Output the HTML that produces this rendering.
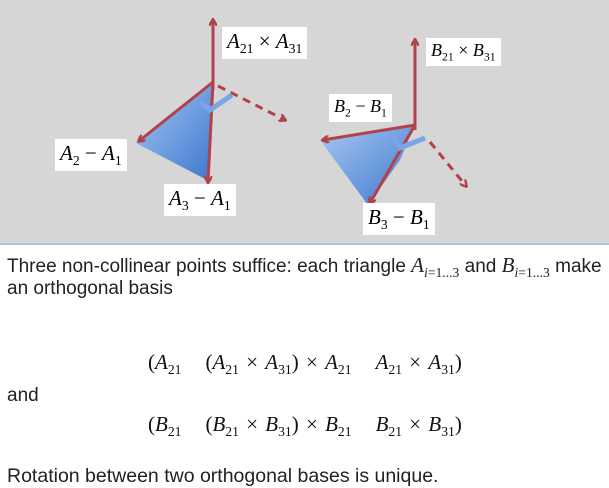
<!DOCTYPE html>
<html><head><meta charset="utf-8"><style>
body{margin:0;width:609px;height:487px;background:#fff;overflow:hidden;position:relative;font-family:"Liberation Sans",sans-serif;}
.t{position:absolute;font-size:19px;color:#222;white-space:nowrap;}
.m{position:absolute;font-family:"Liberation Serif",serif;font-size:21px;color:#111;white-space:nowrap;word-spacing:2px;}
.m i{font-style:italic}
.lbl{position:absolute;background:#fff;font-family:"Liberation Serif",serif;font-size:21px;white-space:nowrap;padding:2px 5px;}
sub{font-size:0.65em;font-style:normal}
.sp{display:inline-block;width:24px}
</style></head><body>
<div style="position:absolute;left:0;top:0;width:609px;height:243px;background:#d6d6d6;border-bottom:2px solid #a9c6dc;"></div>
<svg width="609" height="243" style="position:absolute;left:0;top:0">
<defs>
<linearGradient id="g" x1="0" y1="0" x2="1" y2="1"><stop offset="0" stop-color="#a8c8f4"/><stop offset="1" stop-color="#3d77cc"/></linearGradient>
<marker id="ar" markerWidth="8" markerHeight="8" refX="6" refY="4" orient="auto" markerUnits="userSpaceOnUse"><path d="M0,0 L7,4 L0,8" fill="none" stroke="#b0424a" stroke-width="2.5"/></marker>
</defs>
<polygon points="213,82 136,143 207,180" fill="url(#g)"/>
<polygon points="415,125 320,140 368,205 400,160" fill="url(#g)"/>
<g stroke="#b0424a" stroke-width="3" fill="none">
<line x1="213" y1="90" x2="213" y2="20" marker-end="url(#ar)"/>
<line x1="213" y1="82" x2="139" y2="141" marker-end="url(#ar)"/>
<line x1="213" y1="82" x2="208" y2="182" marker-end="url(#ar)"/>
<line x1="218" y1="86" x2="285" y2="120" stroke-dasharray="8,6" marker-end="url(#ar)"/>
<line x1="415" y1="130" x2="415" y2="40" marker-end="url(#ar)"/>
<line x1="415" y1="125" x2="323" y2="140" marker-end="url(#ar)"/>
<line x1="415" y1="125" x2="370" y2="203" marker-end="url(#ar)"/>
<line x1="430" y1="142" x2="466" y2="186" stroke-dasharray="8,6" marker-end="url(#ar)"/>
</g>
<path d="M200,102 L210,110 L232,95" fill="none" stroke="#7aa6e6" stroke-width="5"/>
<path d="M392,135 L400,148 L425,138" fill="none" stroke="#7aa6e6" stroke-width="5"/>
</svg>
<div class="lbl" style="left:222px;top:27px;"><i>A</i><sub>21</sub> × <i>A</i><sub>31</sub></div>
<div class="lbl" style="left:55px;top:139px;"><i>A</i><sub>2</sub> − <i>A</i><sub>1</sub></div>
<div class="lbl" style="left:164px;top:184px;"><i>A</i><sub>3</sub> − <i>A</i><sub>1</sub></div>
<div class="lbl" style="left:426px;top:38px;font-size:18px"><i>B</i><sub>21</sub> × <i>B</i><sub>31</sub></div>
<div class="lbl" style="left:329px;top:94px;font-size:18px"><i>B</i><sub>2</sub> − <i>B</i><sub>1</sub></div>
<div class="lbl" style="left:363px;top:203px;"><i>B</i><sub>3</sub> − <i>B</i><sub>1</sub></div>
<div class="t" style="left:7px;top:253px;">Three non-collinear points suffice: each triangle <span style="font-family:'Liberation Serif',serif;font-size:21px"><i>A</i><sub><i>i</i>=1...3</sub></span> and <span style="font-family:'Liberation Serif',serif;font-size:21px"><i>B</i><sub><i>i</i>=1...3</sub></span> make</div>
<div class="t" style="left:7px;top:278px;">an orthogonal basis</div>
<div class="m" style="left:148px;top:350px;">(<i>A</i><sub>21</sub><span class="sp"></span>(<i>A</i><sub>21</sub> × <i>A</i><sub>31</sub>) × <i>A</i><sub>21</sub><span class="sp"></span><i>A</i><sub>21</sub> × <i>A</i><sub>31</sub>)</div>
<div class="t" style="left:7px;top:385px;">and</div>
<div class="m" style="left:148px;top:412px;">(<i>B</i><sub>21</sub><span class="sp"></span>(<i>B</i><sub>21</sub> × <i>B</i><sub>31</sub>) × <i>B</i><sub>21</sub><span class="sp"></span><i>B</i><sub>21</sub> × <i>B</i><sub>31</sub>)</div>
<div class="t" style="left:7px;top:465px;font-size:19.5px">Rotation between two orthogonal bases is unique.</div>
</body></html>
